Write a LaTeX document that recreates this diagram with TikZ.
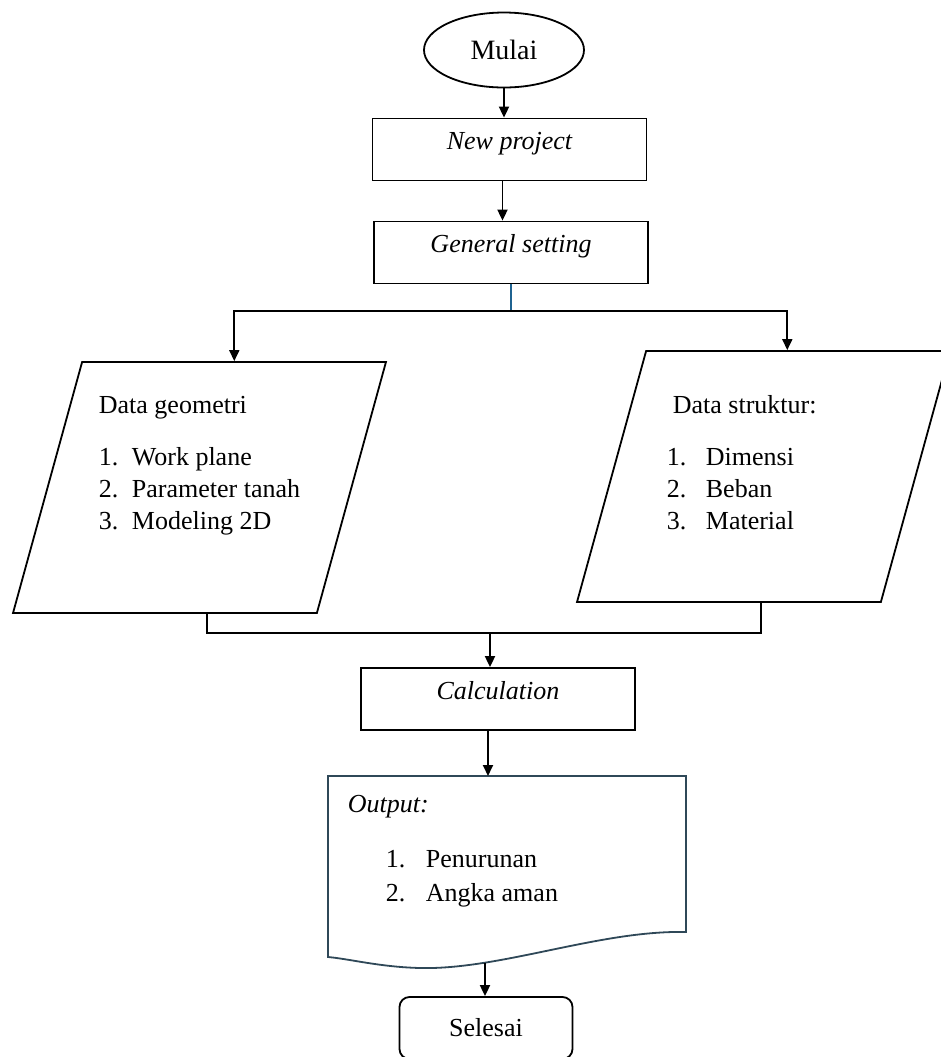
\documentclass[tikz,border=0pt]{standalone}
\usepackage{fontspec}
\setmainfont{Liberation Serif}
\usetikzlibrary{shapes.geometric,arrows.meta}
\definecolor{linkblue}{HTML}{1F6391}
\definecolor{docedge}{HTML}{2F4858}

\begin{document}
\begin{tikzpicture}[x=0.5pt,y=-0.5pt,line width=0.9pt,
		font=\fontsize{13}{16}\selectfont,
		arr/.style={-{Triangle[length=5.5pt,width=5pt]}},
		box/.style={draw,rectangle,minimum width=137pt,minimum height=31pt,text height=8pt,text depth=8pt,font=\fontsize{13}{16}\selectfont\itshape},
		data/.style={draw,trapezium,trapezium left angle=73.6,trapezium right angle=106.4,trapezium stretches=true,minimum width=186.5pt,minimum height=125.5pt},
		txt/.style={inner sep=0pt,anchor=north west,align=left}]
		\useasboundingbox (0,0) rectangle (941,1057);
		\clip (0,0) rectangle (941,1057);
		% start
		\node [draw,ellipse,minimum width=80pt,minimum height=37.5pt,font=\fontsize{14}{17}\selectfont] (mulai) at (504,50) {Mulai};
		\node [box] (newproj) at (509.5,149.5) {New project};
		\node [box] (general) at (511,252.5) {General setting};
		\draw [arr] (mulai.south) to (mulai.south |- newproj.north);
		\draw [arr] ([xshift=-3.5pt]newproj.south) to ([xshift=-3.5pt]newproj.south |- general.north);
		% input data
		\node [data] (geo) at (199.5,487.5) {};
		\node [data] (str) at (763.5,476.5) {};
		\node [txt] (geotext) at (98,395) {Data geometri\\[10pt]
			\makebox[16.5pt][l]{1.}Work plane\\
			\makebox[16.5pt][l]{2.}Parameter tanah\\
			\makebox[16.5pt][l]{3.}Modeling 2D};
		\node [txt] (strtext) at (666,395) {\hspace*{3pt}Data struktur:\\[10pt]
			\makebox[19.5pt][l]{1.}Dimensi\\
			\makebox[19.5pt][l]{2.}Beban\\
			\makebox[19.5pt][l]{3.}Material};
		\coordinate (split) at (509,311);
		\draw [linkblue] (general.south) to (general.south |- split);
		\draw [arr] (split) -| (geo.top side);
		\draw [arr] (split) -| ([xshift=-5.5pt]str.top side);
		% merge
		\coordinate (merge) at (490,633);
		\node [box] (calc) at (498,699) {Calculation};
		\draw ([xshift=21pt]geo.bottom side) |- (merge) -| ([xshift=16pt]str.bottom side);
		\draw [arr] (merge) to (merge |- calc.north);
		% output
		\coordinate (outnw) at (328,776);
		\coordinate (outne) at (686,776);
		\coordinate (outse) at (686,932);
		\coordinate (outsw) at (328,957);
		\coordinate (outwave) at (485,963);
		\draw [docedge] (outnw) to (outne) to (outse)
			.. controls (600,930) and (500,970) .. (420,968)
			.. controls (380,967) and (350,959) .. (outsw) to cycle;
		\node [txt] (outtitle) at (347,794) {\itshape Output:};
		\node [txt] (outtext) at (385,849) {\makebox[20pt][l]{1.}Penurunan\\[1pt]
			\makebox[20pt][l]{2.}Angka aman};
		\draw [arr] ([xshift=-5pt]calc.south) to ([xshift=-5pt]calc.south |- outnw);
		% end
		\node [draw,rounded corners=5pt,minimum width=86.5pt,minimum height=31pt] (selesai) at (486,1028) {Selesai};
		\draw [arr] (outwave) to (outwave |- selesai.north);
	\end{tikzpicture}
\end{document}
